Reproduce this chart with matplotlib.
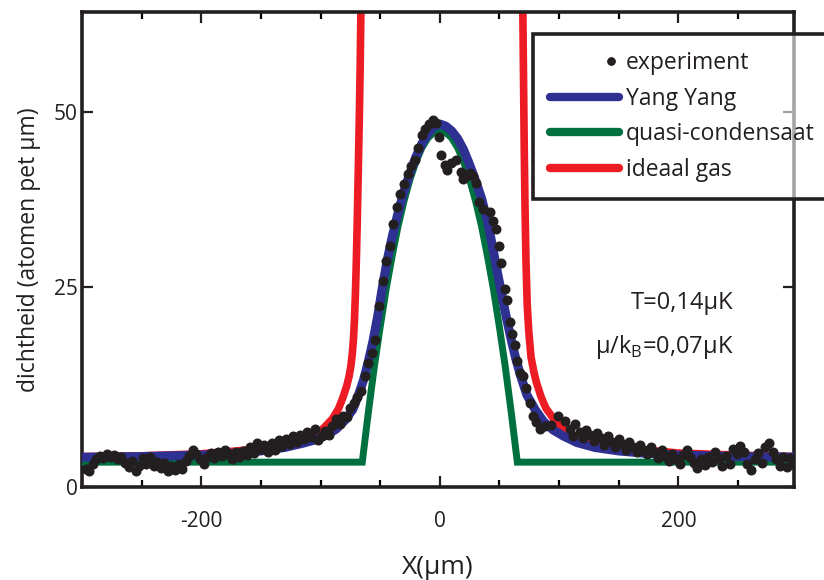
import numpy as np
import matplotlib
matplotlib.use("Agg")
import matplotlib.pyplot as plt
from matplotlib.lines import Line2D
from matplotlib.legend_handler import HandlerLine2D
from matplotlib.ticker import MultipleLocator, FixedLocator

### Step 0. data
# experiment: x (um), density (atoms / um)
exp_x = [
    -297, -294, -291, -288, -285, -282, -279, -276, -273, -270, -267, -264, -261, -258,
    -255, -252, -249, -246, -243, -240, -237, -234, -231, -228, -225, -222, -219, -216,
    -213, -210, -207, -204, -201, -198, -195, -192, -189, -186, -183, -180, -177, -174,
    -171, -168, -165, -162, -159, -156, -153, -150, -147, -144, -141, -138, -135, -132,
    -129, -126, -123, -120, -117, -114, -111, -108, -105, -102, -99, -96, -93, -90,
    -87, -84, -81, -78, -75, -72, -69, -66, -63, -60, -57, -54, -51, -48,
    -45, -42, -39, -36, -33, -30, -27, -24, -21, -18, -15, -12, -9, -6,
    -3, -1, 1, 4, 6, 9.5, 13.5, 17.7, 19.5, 22, 25, 27.7, 30.5, 33,
    36, 41.7, 44.5, 47, 50, 51.5, 54.5, 56.3, 58.5, 60.5, 62.7, 64.7, 67, 69.7,
    72.4, 75.6, 78, 80.9, 83.8, 88, 93.5, 99, 104.8, 109, 112, 113, 117.4, 120,
    123, 126, 129, 132, 135, 138, 141, 144, 147, 150, 153, 156, 159, 162,
    165, 168, 171, 174, 177, 180, 183, 186, 189, 192, 195, 198, 201, 204,
    207, 210, 213, 216, 219, 222, 225, 228, 231, 234, 237, 240, 243, 246,
    249, 252, 255, 258, 261, 264, 267, 270, 273, 276, 279, 282, 285, 288,
    291, 294, 297,
]
exp_y = [
    -1.0, -1.2, -0.3, 0.5, 0.9, 0.6, 1.2, 0.7, 1.0, 0.5, 0.8, -0.1, -0.7, 0.1,
    -1.2, -0.5, 0.6, -0.2, 0.7, -0.6, 0.0, -0.9, -0.1, -1.3, -0.6, -1.1, -0.3, -1.0,
    0.1, 0.9, 1.7, 1.1, 0.5, -0.2, 0.7, 1.3, 0.6, 1.5, 0.9, 1.8, 1.2, 0.5,
    1.4, 0.7, 1.6, 1.0, 2.1, 1.3, 2.8, 1.9, 2.5, 1.4, 2.7, 1.8, 3.1, 2.3,
    3.3, 2.6, 3.7, 2.9, 3.9, 3.3, 4.3, 3.6, 4.8, 3.1, 3.7, 4.5, 3.9, 5.1,
    6.2, 5.5, 6.6, 6.4, 7.7, 8.5, 9.3, 10.2, 12.3, 14.1, 15.6, 17.5, 22.3, 25.9,
    28.7, 30.9, 34.0, 36.5, 38.3, 39.8, 41.1, 42.3, 43.2, 44.9, 46.7, 47.6, 48.3, 48.9,
    48.4, 46.5, 43.9, 42.4, 41.7, 42.8, 43.1, 41.4, 40.5, 40.9, 41.3, 40.9, 39.9, 37.1,
    36.2, 35.8, 34.4, 33.3, 30.9, 28.4, 24.8, 23.2, 20.0, 18.3, 16.8, 14.5, 12.8, 12.3,
    10.6, 8.5, 6.6, 5.8, 4.8, 5.1, 5.3, 6.6, 5.9, 4.8, 3.8, 5.5, 4.3, 3.5,
    4.6, 3.9, 3.0, 4.2, 3.4, 2.5, 3.7, 2.9, 2.1, 3.3, 2.6, 1.8, 2.9, 2.2,
    1.5, 2.5, 1.7, 1.1, 2.2, 1.4, 0.6, 1.7, 0.9, 0.1, 1.2, 0.5, -0.3, 1.0,
    1.8, 0.7, -0.1, -0.8, 0.5, -0.4, 0.8, 0.0, 1.5, 0.6, -0.5, 0.9, -0.2, 1.9,
    1.1, 2.3, 1.4, -0.3, -1.1, 0.5, 1.3, -0.1, 2.1, 2.8, 1.5, 0.4, -0.6, 0.7,
    -0.7, 0.6, -0.2,
]

# Yang Yang fit
yang_x = [-300, -250, -200, -170, -150, -130, -115, -104, -95, -87, -80, -73, -68, -64,
          -60, -56, -52, -48, -44, -40, -35, -30, -25, -20, -15, -10, -5, 0,
          5, 10, 15, 20, 25, 30, 35, 40, 44, 48, 52, 56, 60, 64,
          68, 73, 80, 87, 95, 104, 115, 130, 150, 170, 200, 250, 300]
yang_y = [0.7, 0.8, 1.0, 1.3, 1.6, 2.1, 2.7, 3.2, 3.9, 4.7, 5.9, 7.5, 9.7, 11.7,
          14.3, 17.3, 20.9, 25.1, 28.9, 32.1, 35.6, 38.7, 41.3, 43.6, 45.5, 46.9, 47.9, 48.3,
          48.0, 47.3, 46.2, 44.6, 42.5, 40.2, 37.7, 34.4, 31.0, 27.4, 23.9, 20.5, 17.4, 14.6,
          12.2, 9.6, 7.5, 5.8, 4.6, 3.7, 2.8, 2.1, 1.6, 1.3, 1.0, 0.8, 0.7]

# quasi-condensaat
qc_x = [-300, -65, -60, -55, -50, -45, -40, -35, -30, -25, -20, -15, -10, -5, 0,
        5, 10, 15, 20, 25, 30, 35, 40, 45, 50, 55, 60, 65, 300]
qc_y = [0, 0, 7.0, 13.5, 19.3, 24.7, 29.4, 33.7, 37.3, 40.4, 42.9, 44.9, 46.3, 47.1, 47.4,
        47.1, 46.3, 44.9, 42.9, 40.4, 37.3, 33.7, 29.4, 24.7, 19.3, 13.5, 7.0, 0, 0]

# ideaal gas (leaves the frame above)
gas_x = [-300, -250, -200, -170, -150, -130, -115, -100, -90, -85, -81.5, -78, -76, -74.5,
         -73.3, -72.3, -71.5, -70.8, -70.0, -69.2, -68.3, -67.5, -66.8, -66.1, -65.6, 0,
         69.0, 69.6, 70.2, 70.8, 71.5, 72.3, 73.3, 74.6, 76.5, 79, 81, 85, 89, 95,
         100.5, 110, 125, 150, 200, 250, 300]
gas_y = [0.8, 0.9, 1.2, 1.6, 2.0, 2.6, 3.3, 4.4, 6.2, 7.6, 9.1, 10.9, 12.3, 13.8,
         15.6, 17.8, 20.5, 23.8, 28.5, 34.5, 42.0, 49.0, 56.0, 65.0, 75.0, 300,
         75.0, 65.0, 55.0, 45.0, 36.0, 28.5, 22.5, 18.7, 15.0, 12.8, 11.4, 9.3, 7.7, 6.3,
         5.3, 4.0, 3.0, 2.1, 1.3, 1.0, 0.8]

legend_labels = ["experiment", "Yang Yang", "quasi-condensaat", "ideaal gas"]
y_tick_labels = ["0", "25", "50"]
x_tick_values = [-200, 0, 200]


class RightDotHandler(HandlerLine2D):
    # legend dot sits near the right end of the handle, like the original
    def get_numpoints(self, legend):
        return 2

    def get_xdata(self, legend, xdescent, ydescent, width, height, fontsize):
        x_dot = -xdescent + width * 0.88
        return np.array([x_dot, x_dot]), np.array([x_dot, x_dot])


### Step 1. style
plt.rcParams["font.family"] = ["Open Sans", "DejaVu Sans"]
plt.rcParams["mathtext.fontset"] = "custom"
plt.rcParams["mathtext.rm"] = "Open Sans"
plt.rcParams["axes.unicode_minus"] = False
plt.rcParams["xtick.direction"] = "in"
plt.rcParams["ytick.direction"] = "in"

c_text = "#231f20"
c_blue = "#2e3192"
c_green = "#00703f"
c_red = "#ed1c24"

fig = plt.figure(figsize=(8.24, 5.80), dpi=100)
ax = fig.add_axes([82 / 824, 1 - 487 / 580, (794 - 82) / 824, (487 - 12) / 580])

### Step 2. curves
ax.plot(gas_x, gas_y, color=c_red, lw=5.5, solid_capstyle="butt", zorder=2)
ax.plot(qc_x, qc_y, color=c_green, lw=5, solid_joinstyle="miter", zorder=3)
ax.plot(yang_x, yang_y, color=c_blue, lw=6.5, zorder=4)
ax.plot(exp_x, exp_y, linestyle="none", marker="o", ms=6.2, color=c_text, zorder=5)

### Step 3. axes
y_min, y_max = -3.55, 64.3
ax.set_xlim(-300, 297)
ax.set_ylim(y_min, y_max)

ax.xaxis.set_major_locator(FixedLocator(x_tick_values))
ax.xaxis.set_minor_locator(MultipleLocator(50))
# the "0" label sits on the bottom edge of the frame in the original
ax.set_yticks([y_min, 25, 50])
ax.set_yticklabels(y_tick_labels)

ax.tick_params(axis="x", which="major", length=8, width=1.6, top=True, bottom=True,
               pad=17, labelsize=15, colors=c_text)
ax.tick_params(axis="x", which="minor", length=5, width=1.6, top=True, bottom=True)
ax.tick_params(axis="y", which="major", length=8, width=1.6, left=True, right=True,
               pad=3, labelsize=15, colors=c_text)

for side in ["left", "right", "top", "bottom"]:
    ax.spines[side].set_linewidth(2.6)
    ax.spines[side].set_color(c_text)

ax.set_xlabel("X(μm)", fontsize=19, color=c_text, labelpad=17)
ax.set_ylabel("dichtheid (atomen pet μm)", fontsize=16.5, color=c_text, labelpad=9)

### Step 4. text
ax.text(0.915, 0.387, "T=0,14μK", transform=ax.transAxes, ha="right", va="center",
        fontsize=17, color=c_text)
ax.text(0.915, 0.295, r"μ/k$_\mathrm{B}$=0,07μK", transform=ax.transAxes, ha="right",
        va="center", fontsize=17, color=c_text)

### Step 5. legend (box runs past the right edge of the figure, as in the original)
dot_handle = Line2D([0], [0], linestyle="none", marker="o", ms=5, color=c_text)
handles = [
    dot_handle,
    Line2D([0], [0], color=c_blue, lw=6, solid_capstyle="round"),
    Line2D([0], [0], color=c_green, lw=6, solid_capstyle="round"),
    Line2D([0], [0], color=c_red, lw=6, solid_capstyle="round"),
]
leg = ax.legend(handles, legend_labels,
                loc="upper left",
                bbox_to_anchor=(533 / 824, 1 - 34 / 580, (850 - 533) / 824, 0),
                bbox_transform=fig.transFigure,
                mode="expand",
                fontsize=16.5,
                handlelength=3.0,
                handletextpad=0.3,
                labelspacing=0.5,
                borderpad=0.75,
                borderaxespad=0,
                fancybox=False,
                labelcolor=c_text,
                handler_map={dot_handle: RightDotHandler()})
frame = leg.get_frame()
frame.set_alpha(None)
frame.set_facecolor((1, 1, 1, 0.6))
frame.set_edgecolor(c_text)
frame.set_linewidth(2.6)
leg.set_zorder(10)

plt.savefig("out.png", dpi=100)
